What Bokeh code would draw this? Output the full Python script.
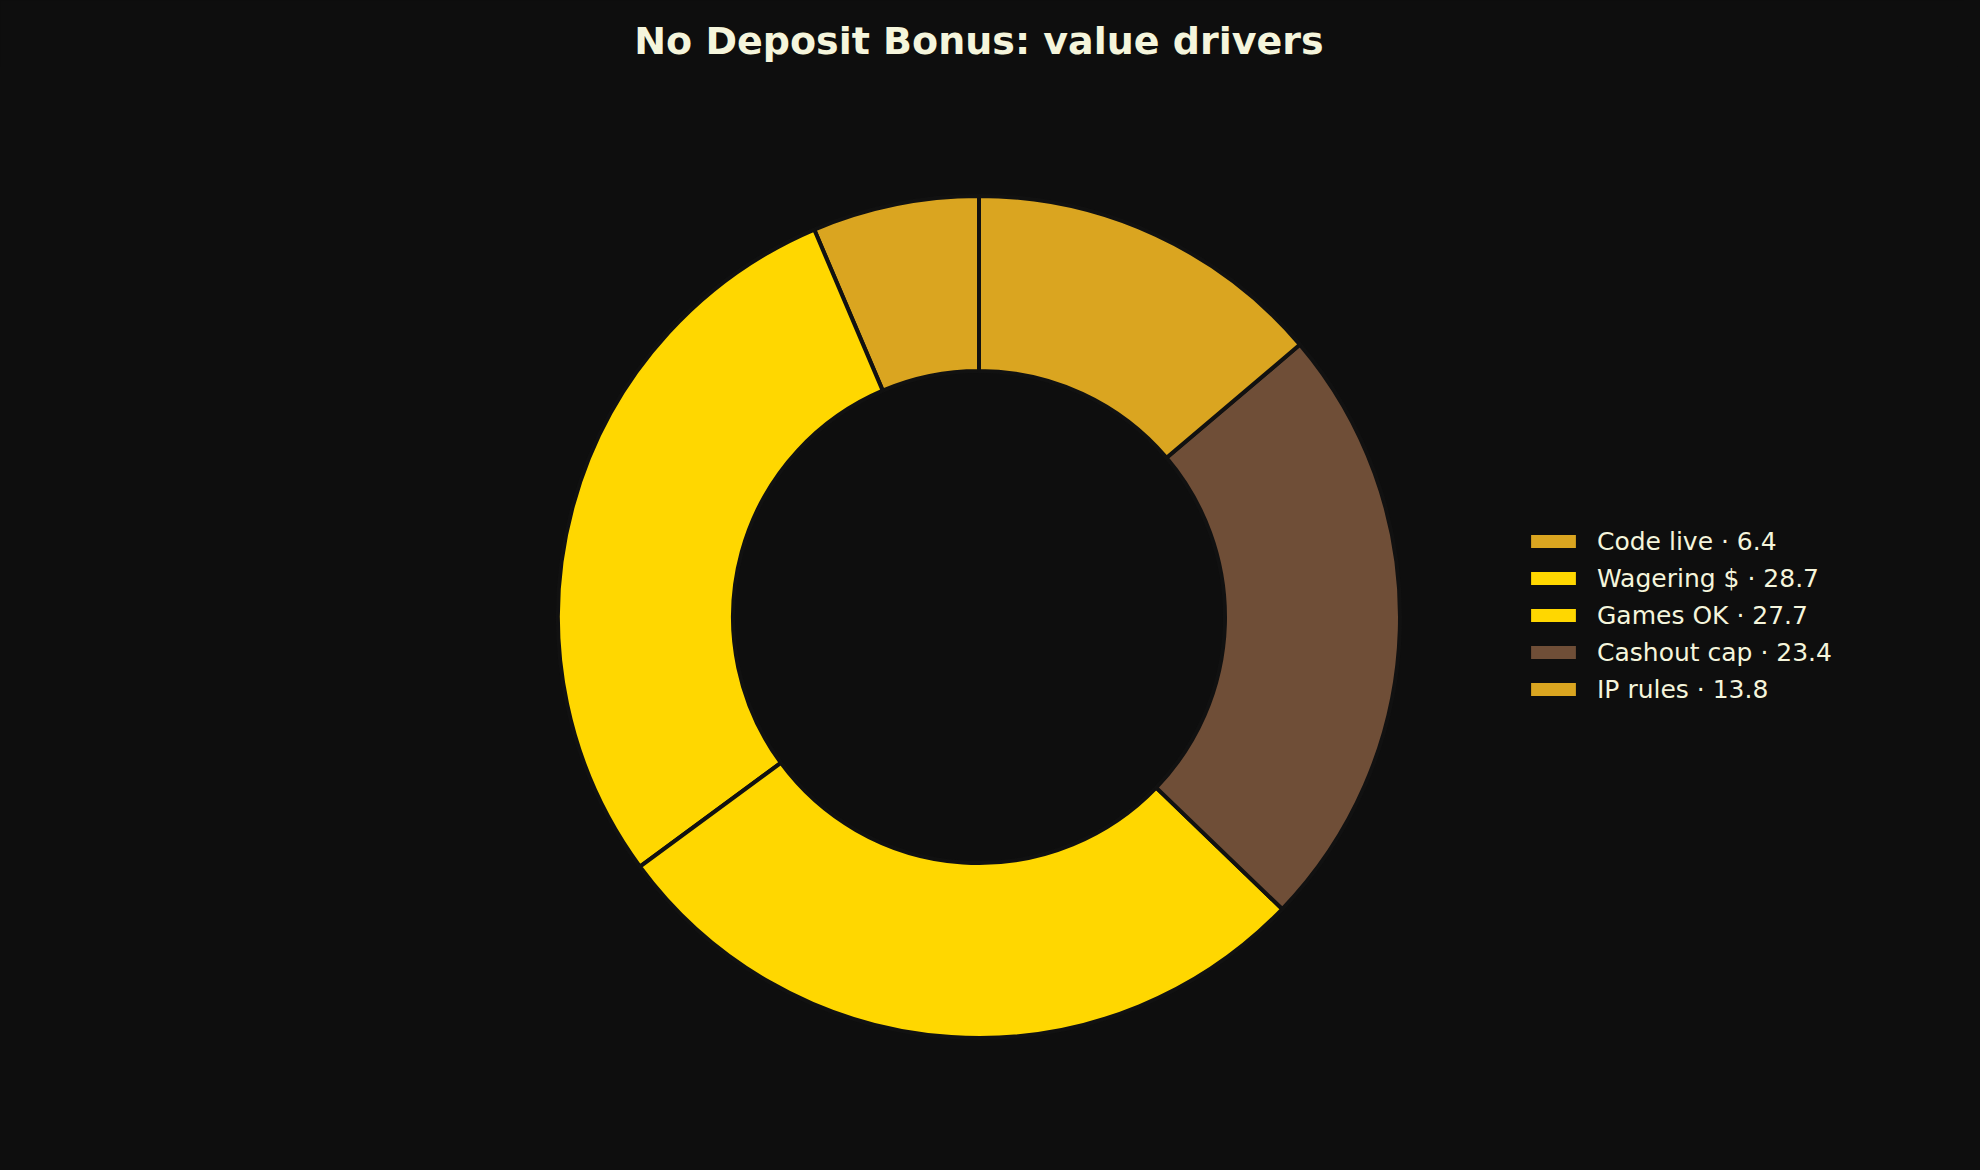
import numpy as np
from bokeh.plotting import figure
from bokeh.models import ColumnDataSource, Range1d, Legend, LegendItem
from bokeh.embed import file_html
from bokeh.resources import INLINE

# ---- data ----
categories = ["Code live", "Wagering $", "Games OK", "Cashout cap", "IP rules"]
values = [6.4, 28.7, 27.7, 23.4, 13.8]
colors = ["#DAA520", "#FFD700", "#FFD700", "#6F4E37", "#DAA520"]
title_text = "No Deposit Bonus: value drivers"

BG = "#0E0E0E"
TXT = "#F5F5DC"

W, H = 1964, 1154
MB_RIGHT = 7
MB_TOP = 66
frame_w = W - MB_RIGHT
frame_h = H - MB_TOP
Y_SHIFT = 6.5

vals = np.array(values, dtype=float)
frac = vals / vals.sum()
start = np.pi / 2 + 2 * np.pi * np.concatenate([[0], np.cumsum(frac)[:-1]])
end = np.pi / 2 + 2 * np.pi * np.cumsum(frac)

src = ColumnDataSource(dict(
    x=[0.0] * len(values), y=[0.0] * len(values),
    start=start, end=end, color=colors,
    label=[f"{c} · {v}" for c, v in zip(categories, values)],
))

p = figure(width=W, height=H, output_backend="svg", toolbar_location=None,
           x_range=Range1d(-frame_w / 2, frame_w / 2),
           y_range=Range1d(-frame_h / 2 + Y_SHIFT, frame_h / 2 + Y_SHIFT),
           min_border_left=0, min_border_right=MB_RIGHT,
           min_border_top=MB_TOP, min_border_bottom=0,
           background_fill_color=None, border_fill_color=BG,
           outline_line_color=None, title=title_text)
p.axis.visible = False
p.grid.visible = False
p.title.align = "center"
p.title.text_color = TXT
p.title.text_font = "DejaVu Sans"
p.title.text_font_size = "38px"
p.title.text_font_style = "bold"
p.title.offset = 0
p.title.standoff = 8

R_OUT, R_IN = 421, 246

# legend proxy (no outline), hidden beneath the real wedges
proxy = p.annular_wedge(x="x", y="y", inner_radius=R_IN, outer_radius=R_OUT,
                        start_angle="start", end_angle="end", source=src,
                        fill_color="color", line_alpha=0)
p.annular_wedge(x="x", y="y", inner_radius=R_IN, outer_radius=R_OUT,
                start_angle="start", end_angle="end", source=src,
                fill_color="color", line_color="#111111", line_width=4)

items = [LegendItem(label=lab, renderers=[proxy], index=i)
         for i, lab in enumerate(src.data["label"])]
legend = Legend(items=items, location=(1525, 450),
                background_fill_alpha=0, border_line_alpha=0,
                padding=0, margin=0, spacing=7,
                glyph_width=56, glyph_height=16, label_height=30,
                label_standoff=16,
                label_text_font="DejaVu Sans", label_text_font_size="25px",
                label_text_color=TXT)
p.add_layout(legend, "center")

html = file_html(p, INLINE)
html = html.replace("<head>", "<head><style>html,body{background:#0E0E0E;}</style>", 1)
open("out.html", "w").write(html)
